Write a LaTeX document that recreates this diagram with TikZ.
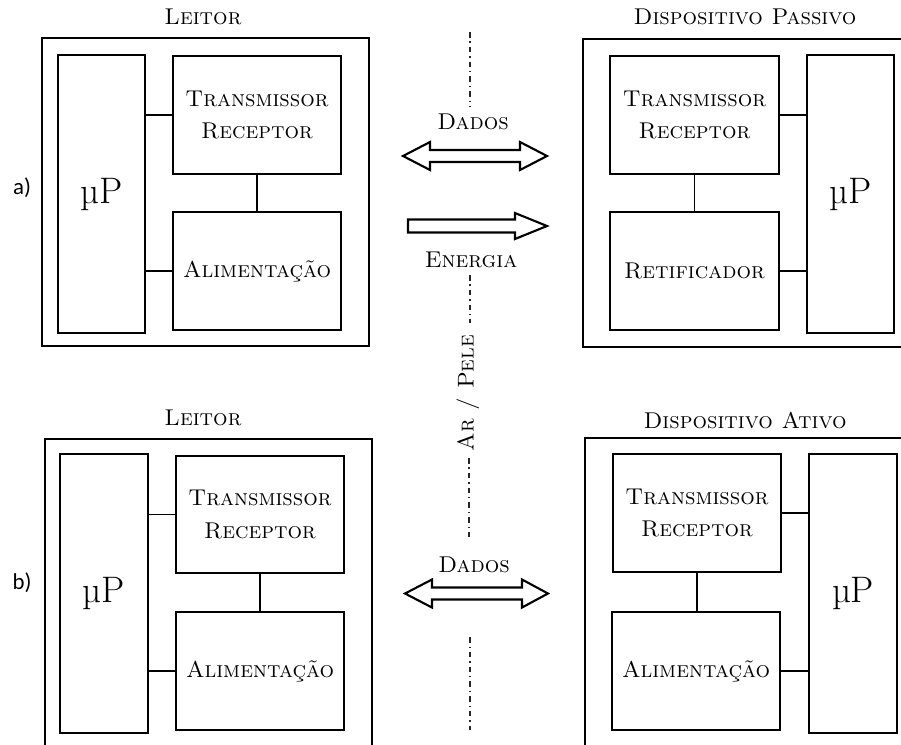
\documentclass[tikz,border=0pt]{standalone}
\usepackage{fontspec}
\newfontfamily\labfont{Carlito}
\begin{document}
\begin{tikzpicture}[x=0.02cm,y=-0.02cm,
  txt/.style={font=\fontsize{13}{18.7}\selectfont\scshape, align=center, inner sep=0},
  outerbox/.style={draw, line width=1.5pt, inner sep=0},
  blk/.style={draw, line width=1.5pt, inner sep=0, align=center,
    font=\fontsize{13}{18.7}\selectfont\scshape, minimum width=3.36cm, minimum height=2.36cm},
  mpbox/.style={draw, line width=1.5pt, inner sep=0, minimum width=1.74cm, minimum height=5.56cm,
    font=\rmfamily\fontsize{21}{23}\selectfont},
  wire/.style={line width=0.6pt},
  air/.style={line width=0.7pt, black!85, dash pattern=on 3.2pt off 2.2pt on 0.8pt off 2.2pt},
  bigarrow/.style={draw, line width=1.2pt, line join=miter, fill=white},
  lab/.style={font=\labfont\fontsize{13}{15}\selectfont, inner sep=0}]
\useasboundingbox (0,0) rectangle (901,744);
\clip (0,0) rectangle (901,744);

% ---------- panel a) left: Leitor ----------
\node[txt] (tLa) at (203,17) {Leitor};
\node[outerbox, minimum width=6.54cm, minimum height=6.16cm] (La) at (205.5,192) {};
\node[mpbox] (mpLa) at (101.5,194) {µP};
\node[blk] (trLa) at (257,115) {Transmissor\\Receptor};
\node[blk] (alLa) at (257,271) {Alimentação};
\draw[wire] (trLa.west) -- (trLa.west -| mpLa.east);
\draw[wire] (alLa.west) -- (alLa.west -| mpLa.east);
\draw[wire] (trLa.south) -- (alLa.north);
\node[lab] (la) at (22,188) {a)};

% ---------- panel a) right: Dispositivo Passivo ----------
\node[txt] (tRa) at (745,17) {Dispositivo Passivo};
\node[outerbox, minimum width=6.44cm, minimum height=6.16cm] (Ra) at (744,193) {};
\node[blk, minimum width=3.38cm] (trRa) at (694.5,115) {Transmissor\\Receptor};
\node[blk, minimum width=3.38cm] (reRa) at (694.5,271) {Retificador};
\node[mpbox] (mpRa) at (850.5,194) {µP};
\draw[wire] (trRa.east) -- (trRa.east -| mpRa.west);
\draw[wire] (reRa.east) -- (reRa.east -| mpRa.west);
\draw[wire] (trRa.south) -- (reRa.north);

% ---------- middle a) ----------
\coordinate (s1a) at (470,32);  \coordinate (s1b) at (470,107);
\coordinate (s2a) at (470,275); \coordinate (s2b) at (470,323);
\coordinate (s3a) at (469,458); \coordinate (s3b) at (469,537);
\coordinate (s4a) at (470,637); \coordinate (s4b) at (470,730);
\draw[air] (s1a) -- (s1b);
\draw[air] (s2a) -- (s2b);
\draw[air] (s3a) -- (s3b);
\draw[air] (s4a) -- (s4b);
\node[txt] (dA) at (473,122) {Dados};
\draw[bigarrow] (403,156) -- (430,142) -- (430,150) -- (520,150) -- (520,142) -- (547,156)
  -- (520,170) -- (520,162) -- (430,162) -- (430,170) -- cycle;
\draw[bigarrow] (408,219.5) -- (515,219.5) -- (515,213) -- (547,226) -- (515,239)
  -- (515,232.5) -- (408,232.5) -- cycle;
\node[txt] (eA) at (471,260) {Energia};
\node[txt, rotate=90] (air) at (468,393) {Ar / Pele};

% ---------- panel b) left: Leitor ----------
\node[txt] (tLb) at (203,418) {Leitor};
\node[outerbox, minimum width=6.54cm, minimum height=6.16cm] (Lb) at (208.5,593) {};
\node[mpbox, minimum width=1.76cm, minimum height=5.58cm] (mpLb) at (104,593.5) {µP};
\node[blk, minimum height=2.34cm] (trLb) at (260,514.5) {Transmissor\\Receptor};
\node[blk] (alLb) at (260,671) {Alimentação};
\draw[wire] (trLb.west) -- (trLb.west -| mpLb.east);
\draw[wire] (alLb.west) -- (alLb.west -| mpLb.east);
\draw[wire] (trLb.south) -- (alLb.north);
\node[lab] (lb) at (22,583) {b)};

% ---------- panel b) right: Dispositivo Ativo ----------
\node[txt] (tRb) at (745,420) {Dispositivo Ativo};
\node[outerbox, minimum width=6.44cm, minimum height=6.16cm] (Rb) at (746,592) {};
\node[blk] (trRb) at (697,513) {Transmissor\\Receptor};
\node[blk] (alRb) at (696,671) {Alimentação};
\node[mpbox, minimum width=1.76cm, minimum height=5.58cm] (mpRb) at (853,593.5) {µP};
\draw[wire] (trRb.east) -- (trRb.east -| mpRb.west);
\draw[wire] (alRb.east) -- (alRb.east -| mpRb.west);
\draw[wire] (trRb.south) -- (trRb.south |- alRb.north);

% ---------- middle b) ----------
\node[txt] (dB) at (474,565) {Dados};
\draw[bigarrow] (405,593.5) -- (432,579.5) -- (432,587.5) -- (522,587.5) -- (522,579.5) -- (548,593.5)
  -- (522,607.5) -- (522,599.5) -- (432,599.5) -- (432,607.5) -- cycle;
\end{tikzpicture}
\end{document}
